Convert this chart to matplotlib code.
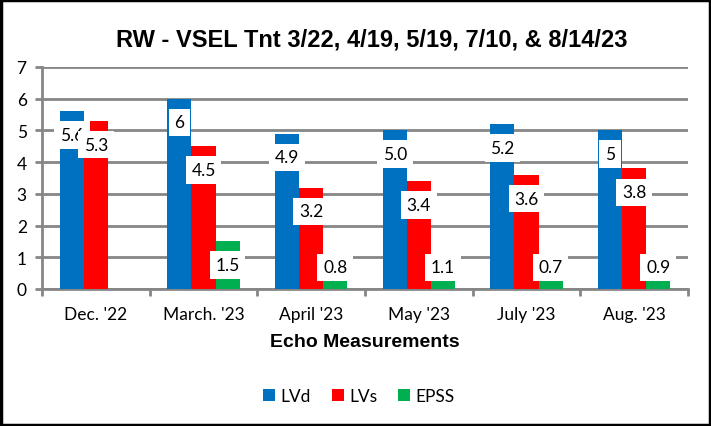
import matplotlib
matplotlib.use("Agg")
import matplotlib.pyplot as plt
from matplotlib.patches import Rectangle
import numpy as np

categories = ["Dec. '22", "March. '23", "April '23", "May '23", "July '23", "Aug. '23"]
lvd = [5.6, 6, 4.9, 5.0, 5.2, 5]
lvd_labels = ["5.6", "6", "4.9", "5.0", "5.2", "5"]
lvs = [5.3, 4.5, 3.2, 3.4, 3.6, 3.8]
lvs_labels = ["5.3", "4.5", "3.2", "3.4", "3.6", "3.8"]
epss = [None, 1.5, 0.8, 1.1, 0.7, 0.9]
epss_labels = ["", "1.5", "0.8", "1.1", "0.7", "0.9"]

series = [("LVd", lvd, lvd_labels, "#0070C0"),
          ("LVs", lvs, lvs_labels, "#FF0000"),
          ("EPSS", epss, epss_labels, "#00B050")]

W, H = 711, 427
fig = plt.figure(figsize=(W / 100, H / 100), dpi=100)
ax = fig.add_axes([42 / W, 1 - 290 / H, (688 - 42) / W, (290 - 68) / H])

lab_font = "Lato"
grid_c = "#868686"

x = np.arange(len(categories))
bw = 0.223
for i, (name, vals, labs, col) in enumerate(series):
    xs = x + (i - 1) * bw
    v = [np.nan if val is None else val for val in vals]
    ax.bar(xs, v, width=bw, color=col, label=name, zorder=3, linewidth=0)

for i, (name, vals, labs, col) in enumerate(series):
    xs = x + (i - 1) * bw
    for xi, val, lab in zip(xs, vals, labs):
        if val is None:
            continue
        ypos = max(val - 0.75, 0.68)
        ax.text(xi, ypos, lab, ha="center", va="center", fontsize=12.5,
                family=lab_font, color="black", zorder=5,
                bbox=dict(boxstyle="square,pad=0.33", fc="white", ec="none"))

ax.set_xlim(-0.5, len(categories) - 0.5)
ax.set_ylim(0, 7)
ax.set_yticks(range(0, 8))
ax.set_xticks(x)
ax.set_xticklabels(categories, family=lab_font, fontsize=12.5)
ax.set_xticks(np.arange(-0.5, len(categories), 1), minor=True)
ax.tick_params(axis="x", which="major", length=0, pad=12)
ax.tick_params(axis="x", which="minor", length=5, width=2, color=grid_c)
ax.tick_params(axis="y", length=5, width=2, color=grid_c, pad=6)
for t in ax.get_yticklabels():
    t.set_family(lab_font)
    t.set_fontsize(12.5)

ax.yaxis.grid(True, color=grid_c, linewidth=2, zorder=0)
ax.set_axisbelow(True)
for s in ["top", "right"]:
    ax.spines[s].set_visible(False)
ax.spines["left"].set_color(grid_c)
ax.spines["left"].set_linewidth(2)
ax.spines["bottom"].set_color(grid_c)
ax.spines["bottom"].set_linewidth(2)

fig.text(372 / W, 1 - 40 / H, "RW - VSEL Tnt 3/22, 4/19, 5/19, 7/10, & 8/14/23",
         ha="center", va="center", fontsize=17, fontweight="bold",
         family="Liberation Sans")
fig.text(365 / W, 1 - 343 / H, "Echo Measurements", ha="center", va="center",
         fontsize=14, fontweight="bold", family="Liberation Sans")

leg = fig.legend(loc="center", bbox_to_anchor=(359 / W, 1 - 397 / H), ncol=3,
                 frameon=False, prop={"family": lab_font, "size": 12.5},
                 handlelength=0.7, handleheight=0.7, handletextpad=0.3,
                 columnspacing=1.2)

fig.patches.append(Rectangle((0.0015, 0.0025), 0.997, 0.995, transform=fig.transFigure,
                             fill=False, ec="black", lw=2.5))

fig.savefig("out.png", dpi=100)
